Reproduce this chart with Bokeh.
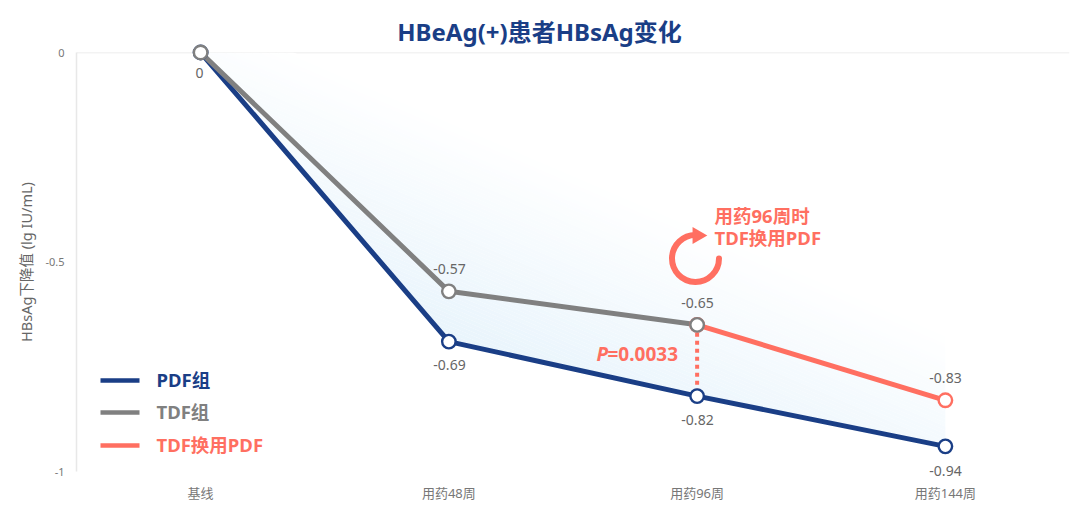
from bokeh.plotting import figure
from bokeh.embed import file_html
from bokeh.resources import INLINE
from bokeh.models import Range1d, FixedTicker, Span
from bokeh.core.properties import value
import numpy as np

categories = ["基线", "用药48周", "用药96周", "用药144周"]
pdf_vals = [0, -0.69, -0.82, -0.94]
tdf_vals = [0, -0.57, -0.65]
switch_vals = [-0.65, -0.83]
y_ticks = [0, -0.5, -1]
legend_names = ["PDF组", "TDF组", "TDF换用PDF"]

NAVY, GRAY, CORAL = "#1a3e86", "#808080", "#ff6f61"
FONT = "Noto Sans, Noto Sans CJK SC"
xs = np.array([0.5, 1.5, 2.5, 3.5])

W, H = 1080, 511
L, T, R, B = 76, 52, 11, 40
p = figure(width=W, height=H, output_backend="svg", toolbar_location=None,
           x_range=Range1d(0, 4), y_range=Range1d(-1, 0),
           min_border_left=L, min_border_top=T, min_border_right=R, min_border_bottom=B,
           background_fill_color="white", border_fill_color="white")
p.outline_line_color = None
p.xgrid.visible = False
p.ygrid.visible = False
p.add_layout(Span(location=0, dimension="width", line_color="#e8e8e8", line_width=1.5, level="underlay"))

p.xaxis.ticker = FixedTicker(ticks=list(xs))
p.xaxis.major_label_overrides = {float(x): c for x, c in zip(xs, categories)}
p.xaxis.axis_line_color = None
p.xaxis.major_tick_line_color = None
p.xaxis.minor_tick_line_color = None
p.xaxis.major_label_text_font = FONT
p.xaxis.major_label_text_font_size = "13px"
p.xaxis.major_label_text_color = "#777777"
p.xaxis.major_label_standoff = 6

p.yaxis.ticker = FixedTicker(ticks=y_ticks)
p.yaxis.major_label_overrides = {0: "0", -0.5: "-0.5", -1: "-1"}
p.yaxis.axis_line_color = "#e8e8e8"
p.yaxis.axis_line_width = 1.5
p.yaxis.major_tick_line_color = None
p.yaxis.minor_tick_line_color = None
p.yaxis.major_label_text_font = FONT
p.yaxis.major_label_text_font_size = "11px"
p.yaxis.major_label_text_color = "#777777"
p.yaxis.major_label_standoff = 6
p.yaxis.axis_label = "HBsAg下降值 (lg IU/mL)"
p.yaxis.axis_label_text_font = FONT
p.yaxis.axis_label_text_font_style = "normal"
p.yaxis.axis_label_text_font_size = "14.5px"
p.yaxis.axis_label_text_color = "#666666"
p.yaxis.axis_label_standoff = 6

# pixel helpers for annotation placement
fw, fh = W - L - R, H - T - B
def dx(px):
    return (px - L) / fw * 4
def dy(py):
    return -(py - T) / fh

# area between the zero line and the PDF curve, with a diagonal gradient
grid = np.linspace(xs[0], xs[-1], 500)
lo = np.interp(grid, xs, pdf_vals)
grid_px = L + grid / 4 * fw
slope = 0.43
f_white, f_full = -40.0, 185.0
c0, c1 = np.array([255, 255, 255]), np.array([232, 244, 252])
n = 60
edges = np.linspace(f_white, f_full, n + 1)
def edge_y(f):
    return dy(T + f + slope * (grid_px - grid_px[0]))
for i in range(n + 1):
    t = min(1, (i + 0.5) / n)
    top = np.minimum(0, edge_y(edges[i]))
    bot = lo if i == n else np.maximum(lo, edge_y(edges[i + 1]))
    bot = np.minimum(bot, top)
    c = c0 + (c1 - c0) * t
    p.varea(grid, top, bot, fill_color="#%02x%02x%02x" % tuple(int(round(v)) for v in c), fill_alpha=1)

LW = 5
p.segment([xs[2]], [tdf_vals[2]], [xs[2]], [pdf_vals[2]], line_color=CORAL, line_width=4, line_dash="4 4")
p.line(xs, pdf_vals, line_color=NAVY, line_width=LW)
p.line(xs[:3], tdf_vals, line_color=GRAY, line_width=LW)
p.line(xs[2:], switch_vals, line_color=CORAL, line_width=LW)

MS = 13.5
for x_, y_, col in [(xs, pdf_vals, NAVY), (xs[2:], switch_vals, CORAL), (xs[:3], tdf_vals, GRAY)]:
    p.scatter(x_, y_, size=MS, fill_color="white", line_color=col, line_width=2.4, level="annotation")


def text(px, py, s, color, size, bold=False, align="center", style=None):
    p.text([dx(px)], [dy(py - 1)], text=[s], text_color=color, text_font=value(FONT),
           text_font_size=f"{size}px", text_align=align, text_baseline="middle",
           text_font_style=style or ("bold" if bold else "normal"), level="overlay")

# value labels
LBL = "#666666"
text(199, 73, "0", LBL, 14)
for px, py, v in [(449, 365, pdf_vals[1]), (697, 420, pdf_vals[2]), (945, 471, pdf_vals[3]),
                  (449, 269, tdf_vals[1]), (697, 303, tdf_vals[2]), (945, 378, switch_vals[1])]:
    text(px, py, str(v), LBL, 14)

# legend
for py, name, col in zip([380, 412, 445], legend_names, [NAVY, GRAY, CORAL]):
    p.segment([dx(100)], [dy(py)], [dx(139)], [dy(py)], line_color=col, line_width=4.5, level="overlay")
    text(156, py, name, col, 18.5, bold=True, align="left")

# annotations
text(714, 216, "用药96周时", CORAL, 18.5, bold=True, align="left")
text(714, 238, "TDF换用PDF", CORAL, 18.5, bold=True, align="left")
text(596, 354, "P", CORAL, 19, align="left", style="bold italic")
text(607, 354, "=0.0033", CORAL, 19, bold=True, align="left")

# rotate icon
p.arc([dx(695)], [dy(258)], radius=23.5, radius_units="screen", start_angle=np.pi / 2 - 0.03,
      end_angle=0, direction="anticlock", line_color=CORAL, line_width=6, line_cap="round")
p.scatter([dx(697)], [dy(235)], marker="triangle", size=17, angle=-np.pi / 2, fill_color=CORAL, line_color=None)

# title
text(539, 32, "HBeAg(+)患者HBsAg变化", NAVY, 24, bold=True)

open("out.html", "w").write(file_html(p, INLINE))
